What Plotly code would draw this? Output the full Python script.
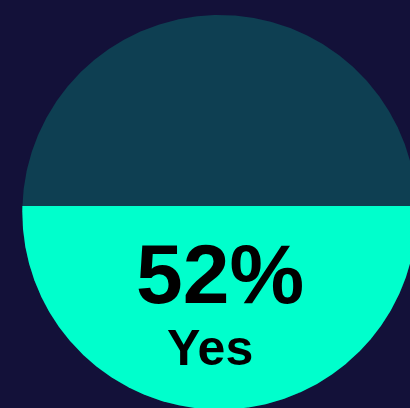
import numpy as np
import plotly.graph_objects as go

# Data
labels = ["Yes"]
values = [52]

# Layout / style
W, H = 410, 408
CX, CY, R = 219.6, 212.3, 197.3
BG = "#131139"
TOP = "#0e3f52"
FILL = "#00ffcc"

frac = values[0] / 100.0

# Solve for the distance d (above center, pixel units) such that the area below the line is frac
def below_fraction(d):
    a_top = R * R * np.arccos(d / R) - d * np.sqrt(R * R - d * d)
    return 1 - a_top / (np.pi * R * R)

lo, hi = -R, R
for _ in range(100):
    mid = (lo + hi) / 2
    if below_fraction(mid) < frac:
        lo = mid
    else:
        hi = mid
d = (lo + hi) / 2
level_y = CY - d  # screen y (down positive)

# Full circle
t = np.linspace(0, 2 * np.pi, 721)
cx_pts = CX + R * np.cos(t)
cy_pts = CY + R * np.sin(t)

# Lower segment (screen y > level_y)
half = np.arccos(d / R)  # angle from "up" direction
# points on circle below line: angles measured in screen coords
a0 = np.arcsin(-d / R)  # angle where sin = (level_y-CY)/R
ang = np.linspace(a0, np.pi - a0, 721)
seg_x = CX + R * np.cos(ang)
seg_y = CY + R * np.sin(ang)

fig = go.Figure()
fig.add_trace(go.Scatter(x=cx_pts, y=cy_pts, mode="lines", fill="toself",
                         fillcolor=TOP, line=dict(width=0, color=TOP),
                         hoverinfo="skip", showlegend=False))
fig.add_trace(go.Scatter(x=np.append(seg_x, seg_x[0]), y=np.append(seg_y, seg_y[0]),
                         mode="lines", fill="toself", fillcolor=FILL,
                         line=dict(width=0, color=FILL),
                         hoverinfo="skip", showlegend=False))

fig.add_annotation(x=220, y=274, text=f"<b>{values[0]}%</b>", showarrow=False,
                   xanchor="center", yanchor="middle",
                   font=dict(family="Liberation Sans, Arial", size=84, color="#000000"))
fig.add_annotation(x=210, y=348, text=f"<b>{labels[0]}</b>", showarrow=False,
                   xanchor="center", yanchor="middle",
                   font=dict(family="Liberation Sans, Arial", size=50, color="#000000"))

fig.update_layout(
    width=W, height=H,
    margin=dict(l=0, r=0, t=0, b=0),
    paper_bgcolor=BG, plot_bgcolor=BG,
    xaxis=dict(range=[0, W], visible=False, fixedrange=True),
    yaxis=dict(range=[H, 0], visible=False, fixedrange=True),
)
fig.write_html("out.html", config={"displayModeBar": False})
